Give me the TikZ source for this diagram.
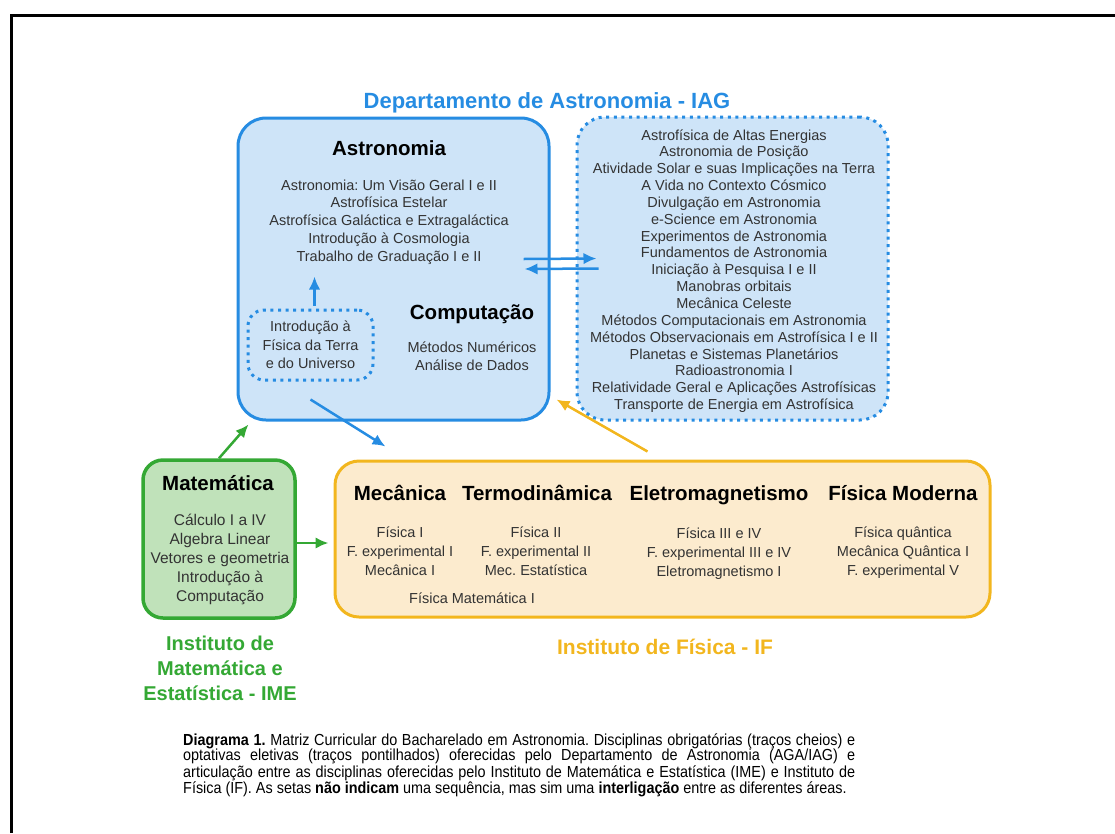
\documentclass[tikz,border=0pt]{standalone}
\usepackage{fontspec}
\setmainfont{Liberation Sans}
\newfontfamily\capfont[FakeStretch=0.9]{Liberation Sans}
\usetikzlibrary{arrows.meta}
\definecolor{azul}{RGB}{38,140,226}
\definecolor{azulclaro}{RGB}{206,228,248}
\definecolor{verde}{RGB}{52,168,52}
\definecolor{verdeclaro}{RGB}{192,226,186}
\definecolor{amarelo}{RGB}{242,182,30}
\definecolor{amareloclaro}{RGB}{252,235,206}
\colorlet{texto}{black!80}
\frenchspacing

\begin{document}
\begin{tikzpicture}[x=1pt,y=-1pt,
    caixa/.style={draw=#1,line width=3pt,rounded corners=28pt,inner sep=0pt},
    pontos/.style={dash pattern=on 3pt off 4.6pt},
    seta/.style={draw=#1,line width=2.5pt,-{Latex[length=13pt,width=11.5pt]}},
    titulo/.style={font=\fontsize{20.5}{24}\selectfont\bfseries,inner sep=0pt,anchor=base},
    lista/.style={font=\fontsize{14.5}{17.8}\selectfont,text=texto,align=center,inner sep=0pt}]%
        \useasboundingbox (0,0) rectangle (1115,833);%%
        \draw[line width=3pt] (11,833) -- (11,15) -- (1115,15);%%
        %\draw[step=50,color=gray,very thin] (0,0) grid (1115,833);%%
        \node[caixa=azul,fill=azulclaro,minimum width=311pt,minimum height=302pt] (ast) at (393.5,269) {}; %%
        \node[caixa=azul,pontos,fill=azulclaro,minimum width=311pt,minimum height=303pt] (opt) at (732.5,268.5) {}; %%
        \node[caixa=azul,pontos,rounded corners=16pt,minimum width=125pt,minimum height=70pt] (intro) at (310.5,345) {}; %%
        \node[caixa=verde,line width=3.5pt,rounded corners=20pt,fill=verdeclaro,minimum width=152pt,minimum height=158pt] (mat) at (219,539) {}; %%
        \node[caixa=amarelo,rounded corners=24pt,fill=amareloclaro,minimum width=655pt,minimum height=156pt] (fis) at (662.5,539) {}; %%
        \node[titulo,font=\fontsize{22}{26}\selectfont\bfseries,text=azul] (iag) at (547,108) {Departamento de Astronomia - IAG}; %%
        \begin{scope}[every node/.append style={titulo}]
        \node (astt) at (389,155) {Astronomia}; %%
        \node (comp) at (472,319) {Computação}; %%
        \node (matt) at (218,490) {Matemática}; %%
        \node (mec) at (400,500) {Mecânica}; %%
        \node (termo) at (537,500) {Termodinâmica}; %%
        \node (eletro) at (719,500) {Eletromagnetismo}; %%
        \node (moder) at (903,500) {Física Moderna}; %%
        \node[text=verde,align=center,anchor=center,font=\fontsize{20}{25}\selectfont\bfseries] (imel) at (220,668) {Instituto de\\Matemática e\\Estatística - IME}; %%
        \node[text=amarelo,font=\fontsize{21}{25}\selectfont\bfseries] (ifl) at (665,654) {Instituto de Física - IF}; %%
        \end{scope}
        \begin{scope}[every node/.append style={lista}]
        \node (astl) at (389,222) {Astronomia: Um Visão Geral I e II\\Astrofísica Estelar\\Astrofísica Galáctica e Extragaláctica\\Introdução à Cosmologia\\Trabalho de Graduação I e II}; %%
        \node[font=\fontsize{14.5}{16.85}\selectfont] (optl) at (734,271) {Astrofísica de Altas Energias\\Astronomia de Posição\\Atividade Solar e suas Implicações na Terra\\A Vida no Contexto Cósmico\\Divulgação em Astronomia\\e-Science em Astronomia\\Experimentos de Astronomia\\Fundamentos de Astronomia\\Iniciação à Pesquisa I e II\\Manobras orbitais\\Mecânica Celeste\\Métodos Computacionais em Astronomia\\Métodos Observacionais em Astrofísica I e II\\Planetas e Sistemas Planetários\\Radioastronomia I\\Relatividade Geral e Aplicações Astrofísicas\\Transporte de Energia em Astrofísica}; %%
        \node[font=\fontsize{14.5}{18.5}\selectfont] (introl) at (intro) {Introdução à\\Física da Terra\\e do Universo}; %%
        \node (compl) at (472,356) {Métodos Numéricos\\Análise de Dados}; %%
        \node[font=\fontsize{15.5}{18.8}\selectfont] (matl) at (220,559.5) {Cálculo I a IV\\Algebra Linear\\Vetores e geometria\\Introdução à\\Computação}; %%
        \node[font=\fontsize{14.5}{19}\selectfont] (mecl) at (400,551) {Física I\\F. experimental I\\Mecânica I}; %%
        \node[font=\fontsize{14.5}{19}\selectfont] (termol) at (536,551) {Física II\\F. experimental II\\Mec. Estatística}; %%
        \node[font=\fontsize{14.5}{19}\selectfont] (eletrol) at (719,554) {Física III e IV\\F. experimental III e IV\\Eletromagnetismo I}; %%
        \node[font=\fontsize{14.5}{19}\selectfont] (moderl) at (903,553) {Física quântica\\Mecânica Quântica I\\F. experimental V}; %%
        \node (fismat) at (472,598) {Física Matemática I}; %%
        \end{scope}
        \node[anchor=north west,inner sep=0pt,text width=672pt,align=justify,font=\capfont\fontsize{16}{15}\selectfont] (leg) at (183,734) {\hyphenpenalty=10000 \textbf{Diagrama 1.} Matriz Curricular do Bacharelado em Astronomia. Disciplinas obrigatórias (traços cheios) e\linebreak optativas eletivas (traços pontilhados) oferecidas pelo Departamento de Astronomia (AGA/IAG) e\linebreak articulação entre as disciplinas oferecidas pelo Instituto de Matemática e Estatística (IME) e Instituto de\linebreak Física (IF). As setas \textbf{não indicam} uma sequência, mas sim uma \textbf{interligação} entre as diferentes áreas.}; %%
        \draw[seta=azul] ([xshift=-27pt,yshift=10pt]ast.east) -- ([xshift=21pt,yshift=10pt]opt.west); %%
        \draw[seta=azul] ([xshift=23pt]opt.west) -- ([xshift=-26pt]ast.east); %%
        \draw[seta=azul] ([xshift=4pt,yshift=3pt]intro.north) -- ([xshift=4pt,yshift=32pt]intro.north); %%
        \draw[seta=azul] ([yshift=-18pt]intro.south) -- ([xshift=52pt,yshift=13pt]fis.north west); %%
        \draw[seta=amarelo] ([xshift=-15pt,yshift=8pt]fis.north) -- ([xshift=6pt,yshift=22pt]ast.south east); %%
        \draw[seta=verde] (mat.north) -- ([xshift=12pt,yshift=-3pt]ast.south west); %%
        \draw[seta=verde] ([yshift=-4pt]mat.east) -- ([xshift=-5pt,yshift=-4pt]fis.west); %%
\end{tikzpicture}
\end{document}
